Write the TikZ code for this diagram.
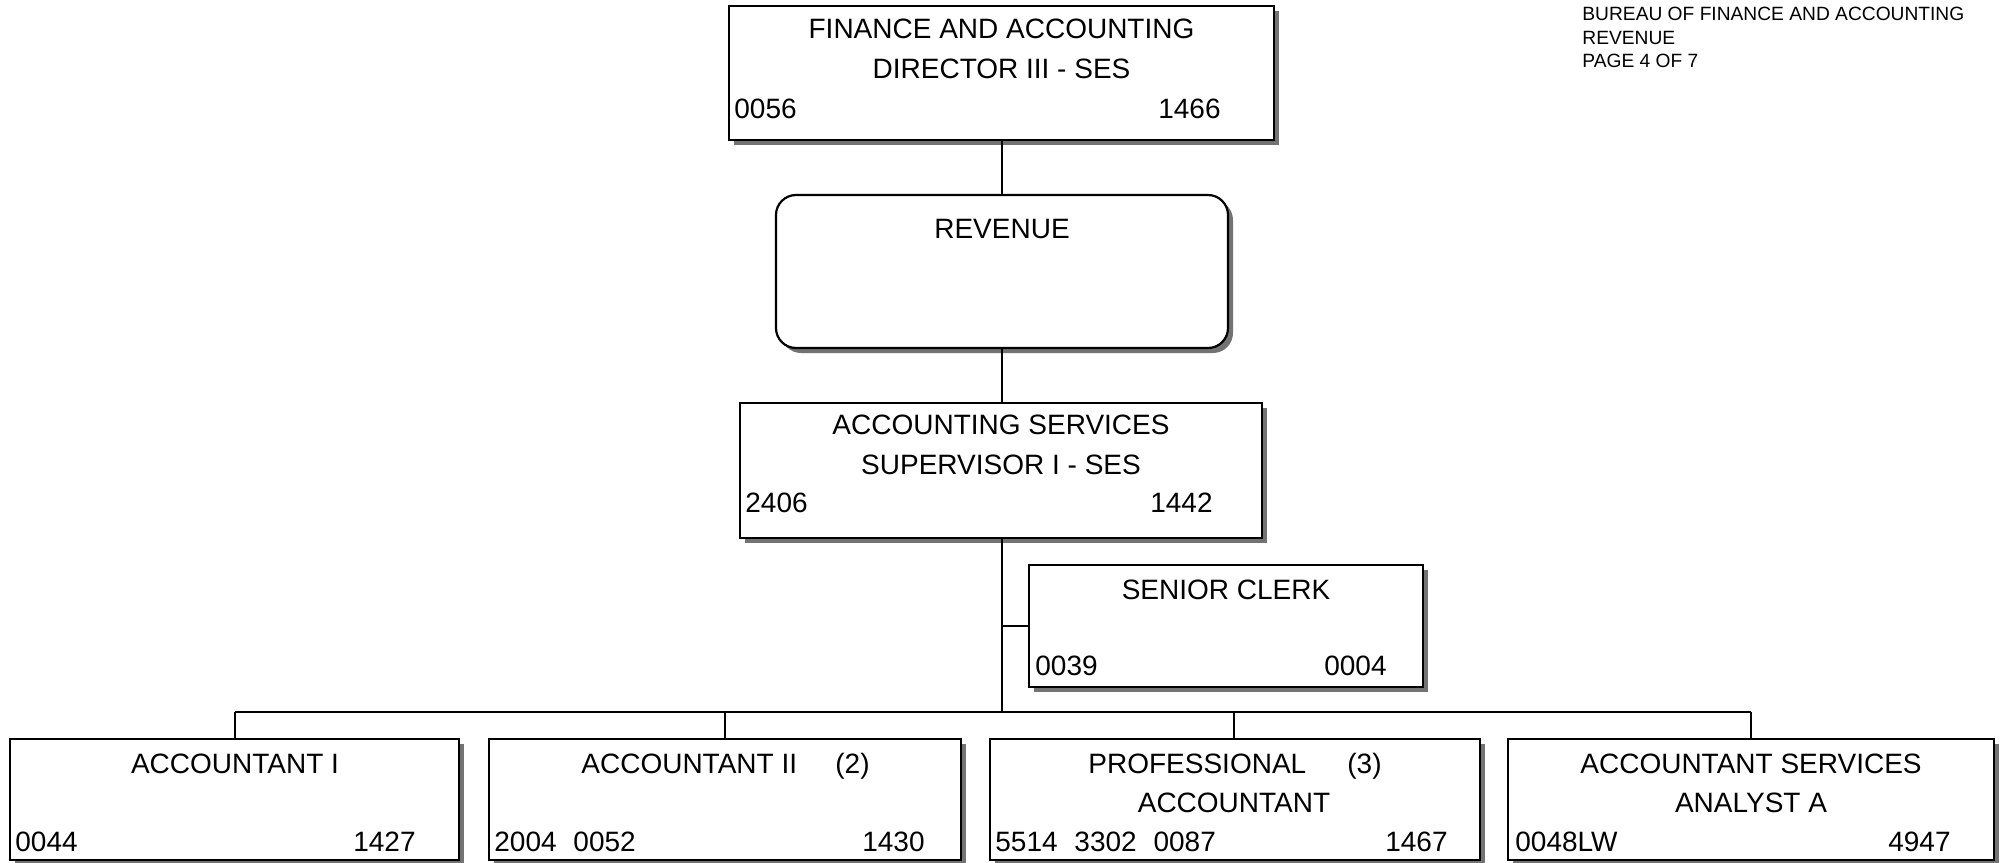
\documentclass[tikz,border=0pt]{standalone}
\usepackage{fontspec}
\setmainfont{Liberation Sans}
\usetikzlibrary{shadows}
\begin{document}
\begin{tikzpicture}[x=0.5pt,y=-0.5pt,
  posbox/.style={draw=black, line width=1.1pt, fill=white, inner sep=0pt,
    drop shadow={shadow xshift=2.5pt, shadow yshift=-2.5pt, fill=gray!90!black, opacity=1}},
  roundbox/.style={posbox, rounded corners=10pt},
  txt/.style={inner sep=0pt, font=\fontsize{14}{16}\selectfont},
  hdr/.style={inner sep=0pt, anchor=base west, font=\fontsize{9.6}{11}\selectfont},
  link/.style={draw=black, line width=1.1pt}]
\useasboundingbox (0,0) rectangle (2001,862);

% boxes
\node[posbox, minimum width=272.5pt, minimum height=67pt] (dir) at (1001.5,73) {};
\node[roundbox, minimum width=226pt, minimum height=76.5pt] (rev) at (1002,271.5) {};
\node[posbox, minimum width=261pt, minimum height=67.5pt] (sup) at (1001,470.5) {};
\node[posbox, minimum width=197pt, minimum height=61pt] (clerk) at (1226,626) {};
\node[posbox, minimum width=224.5pt, minimum height=60.5pt] (acc1) at (234.5,799.5) {};
\node[posbox, minimum width=236pt, minimum height=60.5pt] (acc2) at (725,799.5) {};
\node[posbox, minimum width=245pt, minimum height=60.5pt] (prof) at (1235,799.5) {};
\node[posbox, minimum width=243pt, minimum height=60.5pt] (anal) at (1751,799.5) {};

% connectors
\coordinate (bus) at (1002,712);
\coordinate (clerkj) at (1002,626);
\coordinate (busl) at (235,712);
\coordinate (busr) at (1751,712);
\draw[link] (dir.south -| rev.north) -- (rev.north);
\draw[link] (rev.south) -- (rev.south |- sup.north);
\draw[link] (rev.south |- sup.south) -- (bus);
\draw[link] (clerkj) -- (clerk.west);
\draw[link] (busl) -- (busr);
\draw[link] (busl) -- (busl |- acc1.north);
\draw[link] (bus -| acc2.north) -- (acc2.north);
\draw[link] (1234,712) -- (1234,739);
\draw[link] (busr) -- (anal.north);

% texts
\node[txt, anchor=base] (dir1) at (1001.5,39) {FINANCE AND ACCOUNTING};
\node[txt, anchor=base] (dir2) at (1001.5,78) {DIRECTOR III - SES};
\node[txt, anchor=base west] (dir3) at (734,118) {0056};
\node[txt, anchor=base east] (dir4) at (1221,118) {1466};

\node[txt, anchor=base] (rev1) at (1002,238) {REVENUE};

\node[txt, anchor=base] (sup1) at (1001,434.5) {ACCOUNTING SERVICES};
\node[txt, anchor=base] (sup2) at (1001,474) {SUPERVISOR I - SES};
\node[txt, anchor=base west] (sup3) at (745,512.5) {2406};
\node[txt, anchor=base east] (sup4) at (1213,512.5) {1442};

\node[txt, anchor=base] (cl1) at (1226,599) {SENIOR CLERK};
\node[txt, anchor=base west] (cl2) at (1035,675.5) {0039};
\node[txt, anchor=base east] (cl3) at (1387,675.5) {0004};

\node[txt, anchor=base] (a11) at (235,773.5) {ACCOUNTANT I};
\node[txt, anchor=base west] (a12) at (15,851.5) {0044};
\node[txt, anchor=base east] (a13) at (416,851.5) {1427};

\node[txt, anchor=base west] (a21) at (581,773.5) {ACCOUNTANT II};
\node[txt, anchor=base west] (a22) at (835,773.5) {(2)};
\node[txt, anchor=base west] (a23) at (494,851.5) {2004\hspace{0.6em}0052};
\node[txt, anchor=base east] (a24) at (925,851.5) {1430};

\node[txt, anchor=base west] (p1) at (1088,773.5) {PROFESSIONAL};
\node[txt, anchor=base west] (p2) at (1347,773.5) {(3)};
\node[txt, anchor=base] (p3) at (1234,812) {ACCOUNTANT};
\node[txt, anchor=base west] (p4) at (995,851.5) {5514\hspace{0.6em}3302\hspace{0.6em}0087};
\node[txt, anchor=base east] (p5) at (1448,851.5) {1467};

\node[txt, anchor=base] (an1) at (1751,773.5) {ACCOUNTANT SERVICES};
\node[txt, anchor=base] (an2) at (1751,812) {ANALYST A};
\node[txt, anchor=base west] (an3) at (1515,851.5) {0048LW};
\node[txt, anchor=base east] (an4) at (1951,851.5) {4947};

% page header
\node[hdr] (h1) at (1582,20) {BUREAU OF FINANCE AND ACCOUNTING};
\node[hdr] (h2) at (1582,44) {REVENUE};
\node[hdr] (h3) at (1582,67) {PAGE 4 OF 7};
\end{tikzpicture}
\end{document}
